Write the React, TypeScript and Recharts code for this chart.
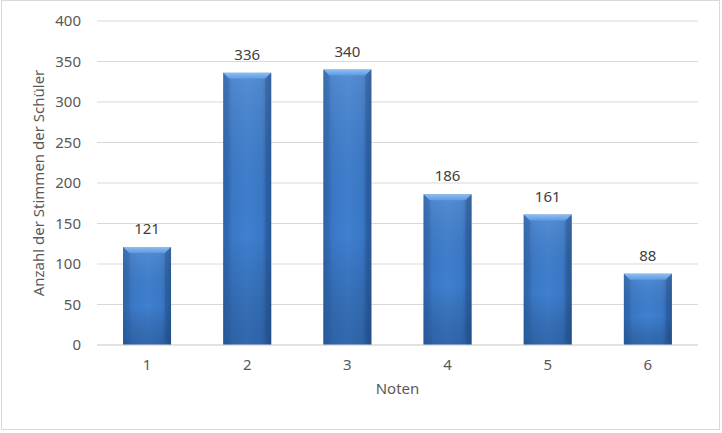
import React from 'react';
import { BarChart, Bar, XAxis, YAxis, CartesianGrid, LabelList, Label } from 'recharts';

const noten = ['1', '2', '3', '4', '5', '6'];
const stimmen = [121, 336, 340, 186, 161, 88];
const yTicks = [0, 50, 100, 150, 200, 250, 300, 350, 400];

const data = noten.map((n, i) => ({ note: n, anzahl: stimmen[i] }));

const FONT = "'Noto Sans', 'Open Sans', sans-serif";
const TEXT = '#595959';

// Excel style bevelled bar
function BevelBar(props: any) {
  const { x, y, width, height } = props;
  if (!height || height <= 0) return null;
  const b = Math.min(6, width / 6, height / 2);
  return (
    <g>
      <rect x={x} y={y} width={width} height={height} fill="url(#barSide)" />
      <rect x={x} y={y} width={width} height={height} fill="url(#barShade)" />
      <polygon
        points={`${x},${y} ${x + width},${y} ${x + width - b},${y + b} ${x + b},${y + b}`}
        fill="url(#barTop)"
      />
      <polygon
        points={`${x},${y} ${x + b},${y + b} ${x + b},${y + height - b} ${x},${y + height}`}
        fill="#2f64aa"
        opacity={0.35}
      />
      <polygon
        points={`${x + width},${y} ${x + width - b},${y + b} ${x + width - b},${y + height - b} ${x + width},${y + height}`}
        fill="#234f8a"
        opacity={0.35}
      />
    </g>
  );
}

export default function App() {
  return (
    <div style={{ position: 'fixed', left: 0, top: 0, width: 722, height: 433, background: '#fff' }}>
      <div
        style={{
          position: 'absolute',
          left: 1,
          top: 0,
          width: 717,
          height: 428,
          border: '1px solid #d9d9d9',
        }}
      />
      <BarChart
        width={722}
        height={433}
        data={data}
        margin={{ top: 21, right: 24, bottom: 38, left: 0 }}
        barCategoryGap="26%"
        style={{ position: 'absolute', left: 0, top: 0, fontFamily: FONT }}
      >
        <defs>
          <linearGradient id="barSide" x1="0" y1="0" x2="1" y2="0">
            <stop offset="0%" stopColor="#2d62a8" />
            <stop offset="20%" stopColor="#3a79c8" />
            <stop offset="50%" stopColor="#3f80d0" />
            <stop offset="80%" stopColor="#3a79c8" />
            <stop offset="100%" stopColor="#2a5c9e" />
          </linearGradient>
          <linearGradient id="barShade" x1="0" y1="0" x2="0" y2="1">
            <stop offset="0%" stopColor="#ffffff" stopOpacity={0.12} />
            <stop offset="60%" stopColor="#000000" stopOpacity={0} />
            <stop offset="100%" stopColor="#0a2040" stopOpacity={0.25} />
          </linearGradient>
          <linearGradient id="barTop" x1="0" y1="0" x2="0" y2="1">
            <stop offset="0%" stopColor="#8dbdf0" />
            <stop offset="100%" stopColor="#5b9ae2" />
          </linearGradient>
        </defs>
        <CartesianGrid vertical={false} stroke="#d9d9d9" />
        <XAxis
          dataKey="note"
          height={50}
          tickLine={false}
          tickSize={0}
          tickMargin={14}
          axisLine={{ stroke: '#d9d9d9' }}
          tick={{ fill: TEXT, fontSize: 15, fontFamily: FONT }}
        >
          <Label value="Noten" position="insideBottom" offset={1} fill={TEXT} fontSize={15} fontFamily={FONT} />
        </XAxis>
        <YAxis
          width={97}
          domain={[0, 400]}
          ticks={yTicks}
          axisLine={false}
          tickLine={false}
          tickSize={0}
          tickMargin={16}
          tick={{ fill: TEXT, fontSize: 15, fontFamily: FONT }}
        >
          <Label
            value="Anzahl der Stimmen der Schüler"
            angle={-90}
            position="center"
            dx={-10}
            fill={TEXT}
            fontSize={15}
            fontFamily={FONT}
          />
        </YAxis>
        <Bar dataKey="anzahl" shape={BevelBar} isAnimationActive={false}>
          <LabelList dataKey="anzahl" position="top" offset={13} fill="#404040" fontSize={15} fontFamily={FONT} />
        </Bar>
      </BarChart>
    </div>
  );
}
